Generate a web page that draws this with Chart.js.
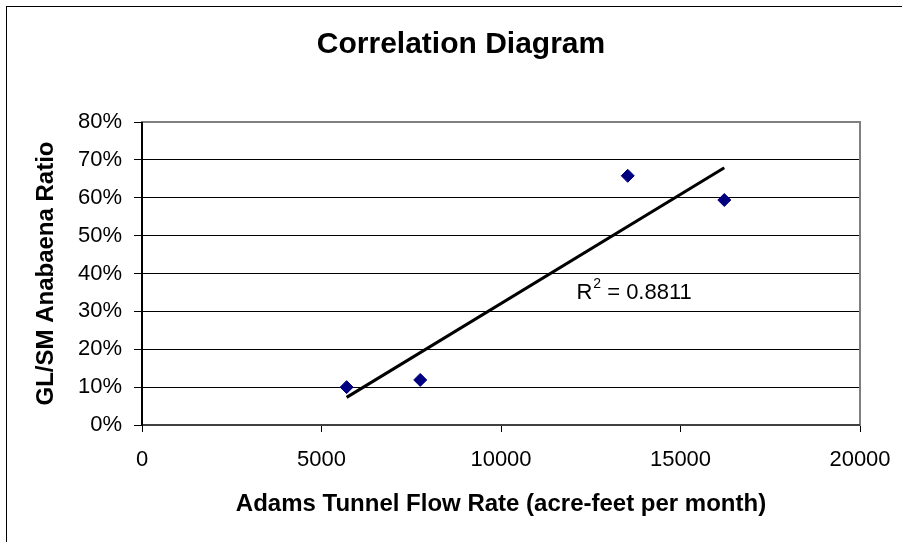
<!DOCTYPE html>
<html>
<head>
<meta charset="utf-8">
<script src="https://cdn.jsdelivr.net/npm/chart.js@4"></script>
<style>
  body { margin: 0; background: #fff; }
  #wrap { width: 902px; height: 542px; position: relative; }
</style>
</head>
<body>
<div id="wrap"><canvas id="corr-chart"></canvas></div>
<script>
// values
const flowRate = [5700, 7750, 13530, 16220];          // acre-feet per month
const anabaenaRatio = [0.10, 0.119, 0.658, 0.594];    // GL/SM ratio
const trendX = [5700, 16220];                          // trend line ends
const trendY = [0.073, 0.679];
const yTickLabels = ['0%', '10%', '20%', '30%', '40%', '50%', '60%', '70%', '80%'];
const xTickLabels = ['0', '5000', '10000', '15000', '20000'];
const rSquared = '0.8811';

const FONT = "'Liberation Sans', Arial, sans-serif";

const points = flowRate.map((x, i) => ({ x: x, y: anabaenaRatio[i] }));
const trend = trendX.map((x, i) => ({ x: x, y: trendY[i] }));

// frame of the whole chart + plot border, R² note
const framePlugin = {
  id: 'frame',
  beforeDraw(chart) {
    const c = chart.ctx;
    c.save();
    c.fillStyle = '#fff';
    c.fillRect(0, 0, chart.width, chart.height);
    c.strokeStyle = '#000';
    c.lineWidth = 1;
    c.strokeRect(6.5, 6.5, 1200, 1200);
    c.restore();
  },
  beforeDatasetsDraw(chart) {
    const a = chart.chartArea;
    const c = chart.ctx;
    c.save();
    c.strokeStyle = '#808080';
    c.lineWidth = 2;
    c.strokeRect(a.left, a.top, a.right - a.left, a.bottom - a.top);
    c.strokeStyle = '#404040';
    c.beginPath();
    c.moveTo(a.left, a.bottom);
    c.lineTo(a.right, a.bottom);
    c.stroke();
    c.strokeStyle = '#000';
    c.beginPath();
    c.moveTo(a.left, a.top);
    c.lineTo(a.left, a.bottom + 1);
    c.stroke();
    c.restore();
  },
  afterDatasetsDraw(chart) {
    const c = chart.ctx;
    const x = chart.scales.x.getPixelForValue(12100);
    const y = chart.scales.y.getPixelForValue(0.332);
    c.save();
    c.fillStyle = '#000';
    c.textBaseline = 'alphabetic';
    c.textAlign = 'left';
    c.font = '22px ' + FONT;
    c.fillText('R', x, y);
    let w = c.measureText('R').width;
    c.font = '14px ' + FONT;
    c.fillText('2', x + w + 1, y - 11);
    w += c.measureText('2').width + 1;
    c.font = '22px ' + FONT;
    c.fillText(' = ' + rSquared, x + w, y);
    c.restore();
  }
};

const ctx = document.getElementById('corr-chart').getContext('2d');

new Chart(ctx, {
  type: 'scatter',
  data: {
    datasets: [{
      data: points,
      pointStyle: 'rectRot',
      pointRadius: 6.5,
      pointHoverRadius: 6.5,
      backgroundColor: '#000080',
      borderColor: '#000080',
      borderWidth: 1,
      order: 1
    }, {
      data: trend,
      showLine: true,
      borderColor: '#000',
      borderWidth: 3,
      pointRadius: 0,
      pointHoverRadius: 0,
      fill: false,
      order: 2
    }]
  },
  options: {
    responsive: true,
    maintainAspectRatio: false,
    animation: false,
    layout: { padding: { left: 20, right: 0, top: 0, bottom: 0 } },
    plugins: {
      legend: { display: false },
      tooltip: { enabled: false },
      title: {
        display: true,
        text: 'Correlation Diagram',
        color: '#000',
        font: { family: FONT, size: 30, weight: 'bold' },
        padding: { top: 27, bottom: 59 }
      }
    },
    scales: {
      x: {
        type: 'linear',
        min: 0,
        max: 20000,
        afterFit(s) { s.height = 117; s.paddingRight = 42; },
        grid: {
          drawOnChartArea: false,
          drawTicks: true,
          tickLength: 7,
          color: '#000'
        },
        border: { display: false },
        ticks: {
          stepSize: 5000,
          padding: 15,
          color: '#000',
          font: { family: FONT, size: 22 },
          maxRotation: 0,
          callback: (v, i) => xTickLabels[i]
        },
        title: {
          display: true,
          text: 'Adams Tunnel Flow Rate (acre-feet per month)',
          color: '#000',
          font: { family: FONT, size: 24, weight: 'bold' },
          padding: { top: 0, bottom: 23 }
        }
      },
      y: {
        type: 'linear',
        min: 0,
        max: 0.8,
        afterFit(s) { s.width = 122; },
        grid: {
          color: '#000',
          lineWidth: 1,
          tickLength: 8
        },
        border: { display: false },
        ticks: {
          stepSize: 0.1,
          padding: 12,
          color: '#000',
          font: { family: FONT, size: 22 },
          callback: (v, i) => yTickLabels[i]
        },
        title: {
          display: true,
          text: 'GL/SM Anabaena Ratio',
          color: '#000',
          font: { family: FONT, size: 24, weight: 'bold' },
          padding: { top: 12, bottom: 0 }
        }
      }
    }
  },
  plugins: [framePlugin]
});
</script>
</body>
</html>
